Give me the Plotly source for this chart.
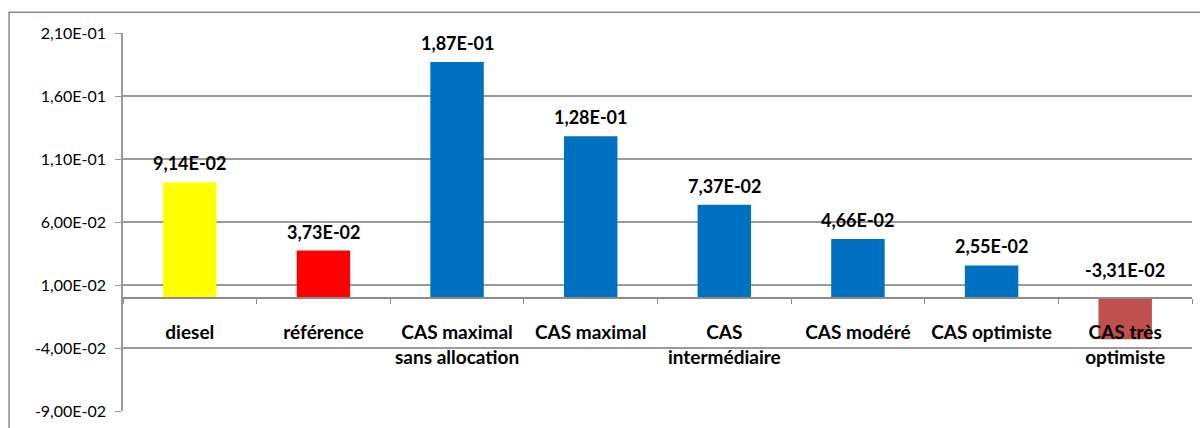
import plotly.graph_objects as go

# Scenario categories (line breaks as shown on the axis)
categories = ["diesel", "référence", "CAS maximal<br>sans allocation", "CAS maximal",
              "CAS<br>intermédiaire", "CAS modéré", "CAS optimiste", "CAS très<br>optimiste"]
values = [0.0914, 0.0373, 0.187, 0.128, 0.0737, 0.0466, 0.0255, -0.0331]
bar_colors = ["#FFFF00", "#FF0000", "#0070C0", "#0070C0", "#0070C0", "#0070C0", "#0070C0", "#C0504D"]

tick_vals = [-0.09, -0.04, 0.01, 0.06, 0.11, 0.16, 0.21]
tick_text = ["-9,00E-02", "-4,00E-02", "1,00E-02", "6,00E-02", "1,10E-01", "1,60E-01", "2,10E-01"]


def sci_fr(v):
    """Scientific notation with a decimal comma, e.g. 9,14E-02."""
    mant, exp = f"{v:.2E}".split("E")
    return f"{mant.replace('.', ',')}E{exp[0]}{int(exp[1:]):02d}"


FONT = "Lato, Calibri, Arial, sans-serif"
GRID = "#9a9a9a"

fig = go.Figure()
fig.add_trace(go.Bar(
    x=categories, y=values, marker=dict(color=bar_colors, line=dict(width=0)),
    width=0.4, hoverinfo="skip"))

# Value labels above each bar (negative value labelled above the zero line)
for c, v in zip(categories, values):
    fig.add_annotation(
        x=c, y=max(v, 0), xref="x", yref="y", text=sci_fr(v), showarrow=False,
        yanchor="middle", yshift=19 if v >= 0 else 28,
        font=dict(family=FONT, size=18, color="#000000", weight="bold"))

# Outer chart frame
fig.add_shape(type="rect", xref="paper", yref="paper",
              x0=-0.1066, x1=1.02, y0=-0.2, y1=1.055,
              line=dict(color="#8c8c8c", width=1.5), fillcolor="rgba(0,0,0,0)", layer="below")

fig.update_layout(
    width=1200, height=428,
    margin=dict(l=123, r=8, t=33, b=13),
    paper_bgcolor="white", plot_bgcolor="white",
    showlegend=False,
    xaxis=dict(
        type="category", anchor="free", position=0.3,
        showline=True, linecolor="#8c8c8c", linewidth=2,
        ticks="outside", tickson="boundaries", ticklen=5, tickcolor="#8c8c8c", tickwidth=1,
        ticklabelstandoff=18, showgrid=False, zeroline=False,
        tickfont=dict(family=FONT, size=19, color="#000000", weight="bold"),
        range=[-0.5, 7.5]),
    yaxis=dict(
        range=[-0.09, 0.21], tickvals=tick_vals, ticktext=tick_text,
        showgrid=True, gridcolor=GRID, gridwidth=1.5,
        showline=True, linecolor=GRID, linewidth=1.5,
        ticks="outside", ticklen=6, tickcolor=GRID, ticklabelstandoff=6,
        zeroline=False,
        tickfont=dict(family=FONT, size=16, color="#000000")),
)

fig.write_html("out.html")
